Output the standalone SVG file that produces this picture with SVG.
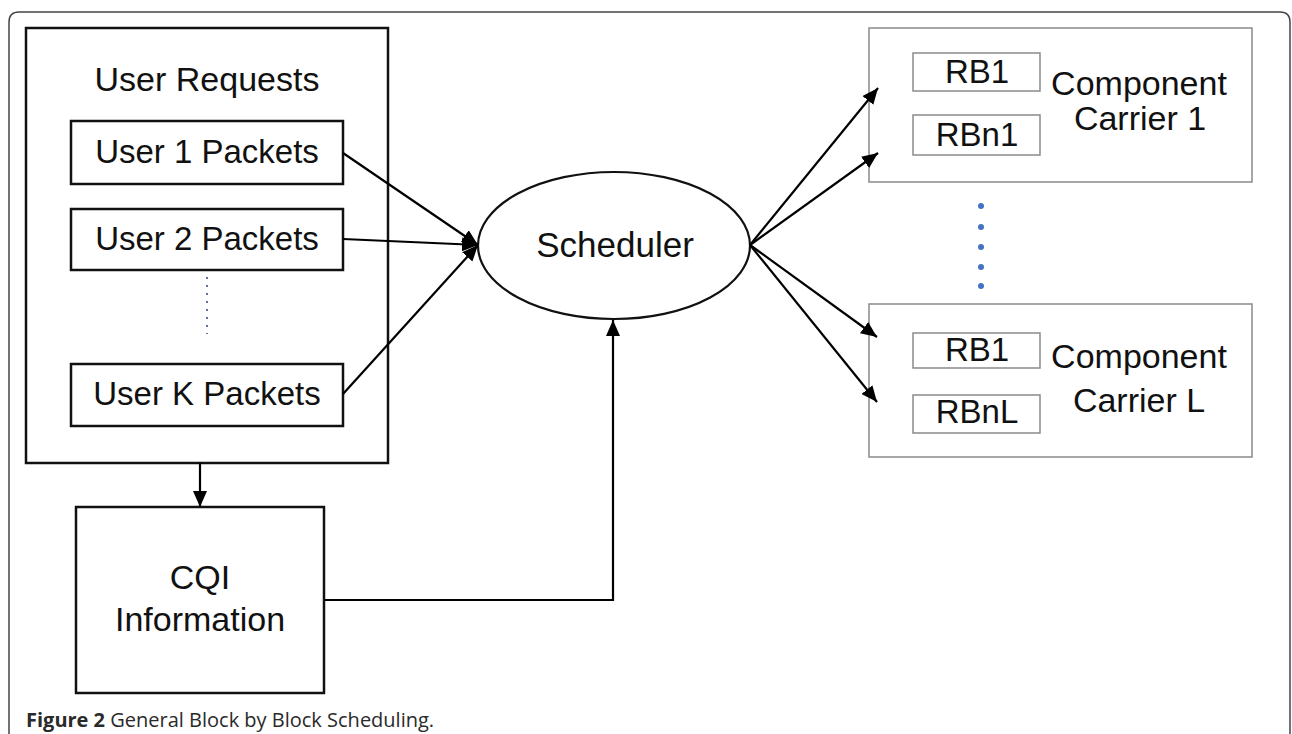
<svg xmlns="http://www.w3.org/2000/svg" width="1292" height="734" viewBox="0 0 1292 734">
<defs>
<style>
.t{font-family:"Liberation Sans",Arial,sans-serif;font-size:34px;fill:#111;text-anchor:middle}
.p{font-size:33px}
.blk{fill:#fff;stroke:#111;stroke-width:2.5}
.gry{fill:#fff;stroke:#8a8a8a;stroke-width:1.5}
.con{fill:none;stroke:#000;stroke-width:2.2}
.cap{font-family:"Open Sans","Liberation Sans",sans-serif;font-size:20px;fill:#2a2a2a}
</style>
<marker id="ah" markerUnits="userSpaceOnUse" markerWidth="16" markerHeight="14" refX="16" refY="7" orient="auto">
<path d="M0,0 L16,7 L0,14 Z" fill="#000"/>
</marker>
</defs>
<rect width="1292" height="734" fill="#fff"/>
<path d="M9,740 V22 Q9,12 19,12 H1280 Q1290,12 1290,22 V740" fill="none" stroke="#444" stroke-width="1.5"/>

<g id="user-requests">
<rect class="blk" x="26" y="28" width="362" height="435"/>
<text class="t" x="207" y="91">User Requests</text>
</g>
<g id="user1">
<rect class="blk" x="71" y="121" width="272" height="63"/>
<text class="t p" x="207" y="163">User 1 Packets</text>
</g>
<g id="user2">
<rect class="blk" x="71" y="209" width="272" height="61"/>
<text class="t p" x="207" y="250">User 2 Packets</text>
</g>
<g id="dots-left">
<line x1="207" y1="277" x2="207" y2="334" stroke="#5b6fa6" stroke-width="2" stroke-dasharray="2 6"/>
</g>
<g id="userK">
<rect class="blk" x="71" y="364" width="272" height="62"/>
<text class="t p" x="207" y="405">User K Packets</text>
</g>
<g id="cqi">
<rect class="blk" x="76" y="507" width="248" height="186"/>
<text class="t" x="200" y="589">CQI</text>
<text class="t" x="200" y="631">Information</text>
</g>
<g id="scheduler">
<ellipse cx="614" cy="245.5" rx="136" ry="73.5" fill="#fff" stroke="#111" stroke-width="2.2"/>
<text class="t" x="615" y="257" style="font-size:35px">Scheduler</text>
</g>
<g id="cc1">
<rect class="gry" x="869" y="28" width="383" height="154"/>
<rect class="gry" x="913" y="53" width="127" height="38"/>
<text class="t p" x="977" y="83">RB1</text>
<rect class="gry" x="913" y="115" width="127" height="40"/>
<text class="t p" x="977" y="146">RBn1</text>
<text class="t" x="1139" y="95">Component</text>
<text class="t" x="1140" y="130">Carrier 1</text>
</g>
<g id="dots-right" fill="#4472c4">
<circle cx="981" cy="206" r="3"/>
<circle cx="981" cy="227" r="3"/>
<circle cx="981" cy="247" r="3"/>
<circle cx="981" cy="267" r="3"/>
<circle cx="981" cy="286" r="3"/>
</g>
<g id="ccL">
<rect class="gry" x="869" y="304" width="383" height="153"/>
<rect class="gry" x="913" y="333" width="127" height="35"/>
<text class="t p" x="977" y="361">RB1</text>
<rect class="gry" x="913" y="395" width="127" height="38"/>
<text class="t p" x="977" y="423">RBnL</text>
<text class="t" x="1139" y="368">Component</text>
<text class="t" x="1139" y="412">Carrier L</text>
</g>

<g id="connectors">
<line class="con" x1="343" y1="153" x2="478" y2="245" marker-end="url(#ah)"/>
<line class="con" x1="343" y1="239" x2="478" y2="245" marker-end="url(#ah)"/>
<line class="con" x1="343" y1="394" x2="478" y2="245" marker-end="url(#ah)"/>
<line class="con" x1="750" y1="245" x2="878" y2="88" marker-end="url(#ah)"/>
<line class="con" x1="750" y1="245" x2="878" y2="153" marker-end="url(#ah)"/>
<line class="con" x1="750" y1="245" x2="877" y2="337" marker-end="url(#ah)"/>
<line class="con" x1="750" y1="245" x2="877" y2="402" marker-end="url(#ah)"/>
<line class="con" x1="200" y1="463" x2="200" y2="507" marker-end="url(#ah)"/>
<polyline class="con" points="324,600 613,600 613,320" marker-end="url(#ah)"/>
</g>

<text class="cap" x="26" y="727"><tspan font-weight="bold">Figure 2</tspan> General Block by Block Scheduling.</text>
</svg>
